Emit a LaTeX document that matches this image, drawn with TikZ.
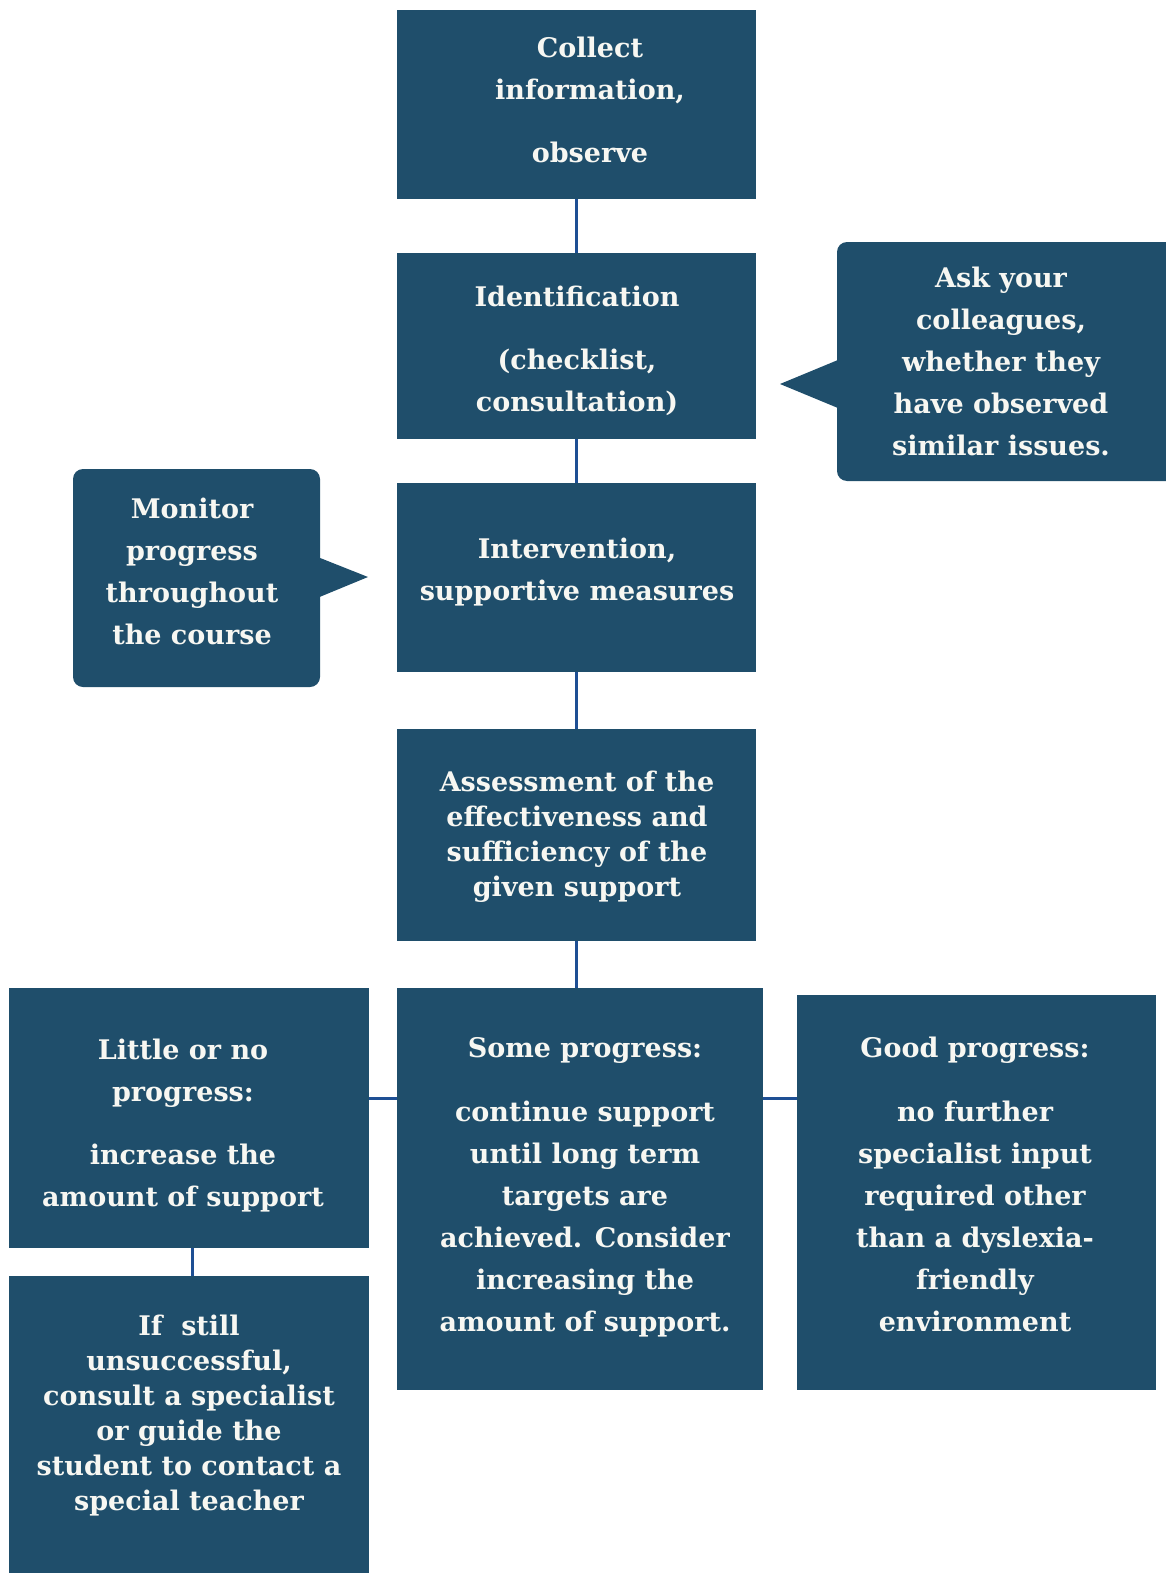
\documentclass[tikz,border=0pt]{standalone}
\usepackage{fontspec}
\setmainfont{DejaVu Serif}
\definecolor{boxblue}{HTML}{1F4E6B}
\definecolor{lineblue}{HTML}{1E4F94}
\definecolor{txtwhite}{HTML}{F7F7F2}
\begin{document}
\begin{tikzpicture}[x=1pt,y=-1pt,
  box/.style={fill=boxblue, draw=none, inner sep=0pt, outer sep=0pt, anchor=north west},
  callbox/.style={box, rounded corners=10pt},
  txt/.style={text=txtwhite, font=\bfseries\fontsize{27}{42}\selectfont, align=center, anchor=base, inner sep=0pt},
  tight/.style={font=\bfseries\fontsize{27}{35}\selectfont},
  link/.style={draw=lineblue, line width=3pt}]
\useasboundingbox (0,0) rectangle (1166,1573);
% boxes
\node[box, minimum width=359pt, minimum height=189pt] (collect) at (397,10) {};
\node[box, minimum width=359pt, minimum height=186pt] (ident) at (397,253) {};
\node[box, minimum width=359pt, minimum height=189pt] (interv) at (397,483) {};
\node[box, minimum width=359pt, minimum height=212pt] (assess) at (397,729) {};
\node[box, minimum width=360pt, minimum height=260pt] (little) at (9,988) {};
\node[box, minimum width=366pt, minimum height=402pt] (some) at (397,988) {};
\node[box, minimum width=359pt, minimum height=395pt] (good) at (797,995) {};
\node[box, minimum width=360pt, minimum height=297pt] (ifstill) at (9,1276) {};
% callouts
\node[callbox, minimum width=340pt, minimum height=239pt] (ask) at (837,242) {};
\coordinate (asktip) at (780,384);
\fill[boxblue] (asktip) -- (850,355) -- (850,413) -- cycle;
\node[callbox, minimum width=247pt, minimum height=218pt] (monitor) at (73,469) {};
\coordinate (montip) at (368,577);
\fill[boxblue] (montip) -- (305,552) -- (305,603) -- cycle;
% connectors
\coordinate (hy) at (0,1098);
\draw[link] (collect.south) -- (ident.north);
\draw[link] (ident.south) -- (interv.north);
\draw[link] (interv.south) -- (assess.north);
\draw[link] (assess.south) -- (assess.south |- some.north);
\draw[link] (little.east |- hy) -- (some.west |- hy);
\draw[link] (some.east |- hy) -- (good.west |- hy);
\draw[link] (little.south -| 192,0) -- (ifstill.north -| 192,0);
% texts (anchor = baseline of last line)
\node[txt] (tcollect) at (590,163) {Collect\\information,\\[21pt]observe};
\node[txt] (tident) at (577,411) {Identification\\[21pt](checklist,\\consultation)};
\node[txt] (tinterv) at (577,600) {Intervention,\\supportive measures};
\node[txt, tight] (tassess) at (577,896) {Assessment of the\\effectiveness and\\sufficiency of the\\given support};
\node[txt] (tlittle) at (183,1206) {Little or no\\progress:\\[21pt]increase the\\amount of support};
\node[txt] (tsome) at (585,1331) {Some progress:\\[22pt]continue support\\until long term\\targets are\\achieved. Consider\\increasing the\\amount of support.};
\node[txt] (tgood) at (975,1331) {Good progress:\\[22pt]no further\\specialist input\\required other\\than a dyslexia-\\friendly\\environment};
\node[txt, tight] (tifstill) at (189,1510) {If~~still\\unsuccessful,\\consult a specialist\\or guide the\\student to contact a\\special teacher};
\node[txt] (task) at (1001,455) {Ask your\\colleagues,\\whether they\\have observed\\similar issues.};
\node[txt] (tmonitor) at (192,644) {Monitor\\progress\\throughout\\the course};
\end{tikzpicture}
\end{document}
